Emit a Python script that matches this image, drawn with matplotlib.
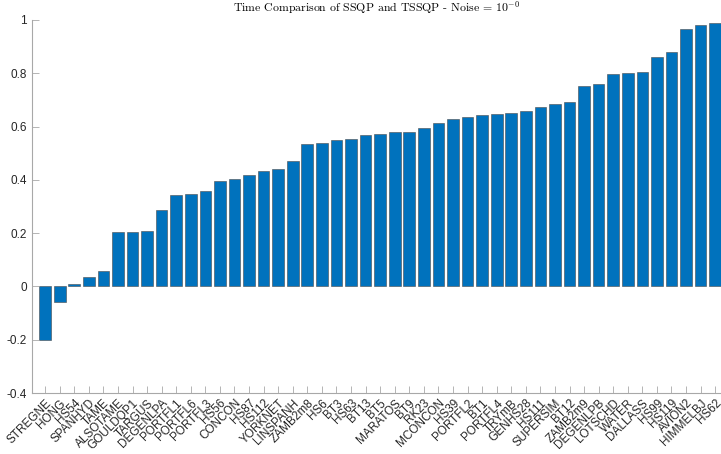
import matplotlib.pyplot as plt
import numpy as np

# data
names = ['STREGNE', 'HONG', 'HS54', 'SPANHYD', 'TAME', 'ALSOTAME', 'GOULDQP1', 'TARGUS',
         'DEGENLPA', 'PORTFL1', 'PORTFL6', 'PORTFL3', 'HS56', 'CONCON', 'HS87', 'HS112',
         'YORKNET', 'LINSPANH', 'ZAMB2m8', 'HS6', 'BT3', 'HS63', 'BT13', 'BT5', 'MARATOS',
         'BT9', 'RK23', 'MCONCON', 'HS39', 'PORTFL2', 'BT1', 'PORTFL4', 'TRYmB', 'GENHS28',
         'HS111', 'SUPERSIM', 'BT12', 'ZAMB2m9', 'DEGENLPB', 'LOTSCHD', 'WATER', 'DALLASS',
         'HS99', 'HS119', 'AVION2', 'HIMMELBJ', 'HS62']
ratio = [-0.200, -0.060, 0.010, 0.035, 0.058, 0.203, 0.205, 0.208,
         0.288, 0.345, 0.348, 0.357, 0.395, 0.402, 0.418, 0.432,
         0.440, 0.470, 0.533, 0.540, 0.548, 0.552, 0.567, 0.572, 0.578,
         0.580, 0.595, 0.615, 0.630, 0.636, 0.642, 0.648, 0.652, 0.658,
         0.672, 0.685, 0.693, 0.752, 0.758, 0.798, 0.800, 0.805,
         0.860, 0.880, 0.965, 0.982, 0.990]

plt.rcParams['mathtext.fontset'] = 'cm'
plt.rcParams['font.family'] = ['Liberation Sans', 'DejaVu Sans']

fig = plt.figure(figsize=(7.21, 4.54), dpi=100)
ax = fig.add_axes([32 / 721, 1 - 393 / 454, 1 - 32 / 721, (393 - 20) / 454])

x = np.arange(1, len(names) + 1)
ax.bar(x, ratio, width=0.8, color='#0072BD', edgecolor='#4a4a4a', linewidth=0.4)

ax.set_xlim(0.1, 47.4)
ax.set_ylim(-0.4, 1)
ax.set_yticks(np.arange(-0.4, 1.01, 0.2))
ax.set_yticklabels(['-0.4', '-0.2', '0', '0.2', '0.4', '0.6', '0.8', '1'])
ax.set_xticks(x)
ax.set_xticklabels(names, rotation=45, ha='right', rotation_mode='anchor')

ax.tick_params(direction='in', length=5, width=0.6, color='#a8a8a8', labelsize=8.5,
               labelcolor='#262626')
ax.tick_params(axis='x', pad=3)
for s in ['top', 'right']:
    ax.spines[s].set_visible(False)
for s in ['left', 'bottom']:
    ax.spines[s].set_color('#a8a8a8')
    ax.spines[s].set_linewidth(0.8)

ax.set_title('Time Comparison of SSQP and TSSQP - Noise = $10^{-0}$',
             fontfamily='cmr10', fontsize=8.5, pad=6)

fig.savefig('out.png', dpi=100)
